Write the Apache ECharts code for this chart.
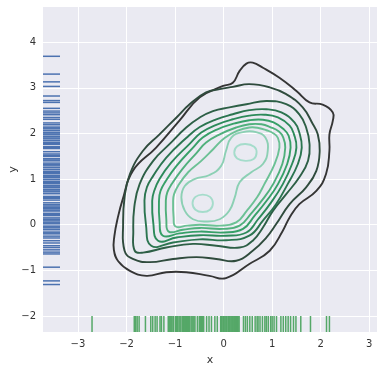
<!DOCTYPE html>
<html><head><meta charset="utf-8">
<script src="https://cdn.jsdelivr.net/npm/echarts@6/dist/echarts.min.js"></script>
<style>html,body{margin:0;padding:0;background:#fff}#c{width:384px;height:371px}</style>
</head><body><div id="c"></div>
<script>
const xTicks = [-3,-2,-1,0,1,2,3];
const yTicks = [-2,-1,0,1,2,3,4];
const xRange = [-3.72, 3.16];
const yRange = [-2.35, 4.77];

const xRug = [-2.71,-1.84,-1.81,-1.78,-1.74,-1.61,-1.50,-1.46,-1.41,-1.37,-1.31,-1.28,-1.23,
 -1.14,-1.12,-1.10,-1.08,-1.06,-1.03,-0.99,-0.97,-0.95,-0.92,-0.90,-0.88,-0.85,-0.83,-0.81,-0.78,-0.76,-0.74,-0.72,-0.70,-0.67,-0.65,-0.63,-0.61,-0.59,
 -0.54,-0.50,-0.48,-0.45,-0.43,-0.41,-0.35,-0.30,-0.25,-0.18,-0.13,
 -0.06,-0.04,-0.03,0.00,0.01,0.03,0.05,0.06,0.09,0.10,0.12,0.13,0.15,0.17,0.18,0.21,0.22,0.24,0.26,0.27,0.29,0.30,0.32,
 0.41,0.45,0.49,0.54,0.59,0.65,0.69,0.71,0.75,0.80,0.85,0.88,0.92,0.97,1.00,1.04,1.09,
 1.18,1.23,1.28,1.33,1.38,1.44,1.49,1.59,1.79,2.12,2.18];

const yRug = [3.69,3.30,3.13,3.03,2.82,2.72,2.68,2.55,2.49,2.45,2.41,2.35,2.31,2.23,2.19,2.14,2.12,2.10,2.06,
 2.02,1.99,1.97,1.93,1.90,1.88,1.84,1.80,1.78,1.76,1.71,1.69,1.67,1.60,1.55,1.52,1.50,1.45,1.42,1.40,1.35,1.32,1.29,1.25,1.21,1.17,1.14,1.12,
 1.08,1.05,1.03,0.99,0.95,0.92,0.90,0.86,0.83,0.81,0.77,0.74,0.72,0.68,0.62,0.60,0.58,0.54,0.48,0.44,0.41,0.38,0.35,0.32,0.30,0.25,0.22,0.20,
 0.15,0.12,0.10,0.06,0.04,0.02,-0.03,-0.05,-0.07,-0.11,-0.16,-0.18,-0.20,-0.25,-0.29,-0.35,-0.40,-0.46,-0.50,-0.55,-0.60,
 -0.64,-0.93,-1.23,-1.31];

const contour1 = [[-2.26,-0.55],[-2.25,-0.25],[-2.18,0.15],[-2.08,0.55],[-1.87,1.18],[-1.39,1.69],[-0.91,2.28],[-0.49,2.79],[-0.01,3.04],
 [0.19,3.11],[0.33,3.37],[0.47,3.53],[0.60,3.55],[0.81,3.44],[1.15,3.22],[1.50,2.93],[1.77,2.68],[2.04,2.63],
 [2.25,2.46],[2.25,2.28],[2.18,1.98],[2.18,1.62],[2.11,1.11],[1.91,0.74],[1.56,0.45],[1.36,0.16],[1.22,-0.13],
 [0.95,-0.57],[0.53,-0.86],[0.05,-1.17],[-0.29,-1.12],[-0.77,-1.04],[-1.18,-1.04],[-1.59,-1.12],[-1.93,-1.01],
 [-2.17,-0.80]];
const contour2 = [[-2.07,0.01],[-2.04,-0.57],[-1.87,-0.75],[-1.52,-0.82],[-1.04,-0.75],[-0.56,-0.71],[-0.15,-0.75],
 [0.26,-0.79],[0.60,-0.57],[0.88,-0.28],[1.08,0.01],[1.36,0.45],[1.70,0.82],[1.91,1.18],[1.98,1.62],[1.94,1.98],
 [1.84,2.20],[1.63,2.57],[1.29,2.86],[0.95,3.01],[0.53,3.08],[0.19,3.02],[-0.08,2.97],[-0.36,2.90],[-0.70,2.64],
 [-0.97,2.35],[-1.32,1.98],[-1.66,1.62],[-1.93,1.11],[-2.04,0.60]];
const contour3 = [[-1.86,-0.15],[-1.83,-0.57],[-1.66,-0.61],[-1.18,-0.50],[-0.63,-0.42],[-0.15,-0.46],[0.33,-0.50],
 [0.60,-0.35],[0.81,-0.06],[1.02,0.31],[1.29,0.67],[1.56,1.04],[1.74,1.40],[1.77,1.77],[1.70,2.13],[1.56,2.42],
 [1.29,2.64],[0.88,2.71],[0.47,2.64],[0.12,2.57],[-0.22,2.49],[-0.49,2.35],[-0.77,2.13],[-1.11,1.77],[-1.45,1.40],
 [-1.73,0.89],[-1.84,0.38]];
const contour4 = [[-1.63,0.53],[-1.60,0.01],[-1.49,-0.46],[-1.04,-0.39],[-0.49,-0.32],[0.05,-0.34],[0.53,-0.24],
 [0.81,0.09],[1.08,0.45],[1.32,0.89],[1.53,1.33],[1.61,1.69],[1.56,2.02],[1.46,2.24],[1.19,2.46],[0.88,2.53],
 [0.53,2.51],[0.19,2.42],[-0.15,2.31],[-0.49,2.14],[-0.77,1.90],[-1.18,1.47],[-1.45,1.07],[-1.58,0.82]];
const contour5 = [[-1.47,0.53],[-1.45,0.05],[-1.35,-0.35],[-0.97,-0.28],[-0.49,-0.23],[0.05,-0.24],[0.47,-0.17],
 [0.71,0.12],[0.98,0.49],[1.22,0.89],[1.41,1.33],[1.50,1.69],[1.45,1.98],[1.36,2.17],[1.12,2.35],[0.84,2.41],
 [0.53,2.39],[0.19,2.31],[-0.15,2.19],[-0.46,2.02],[-0.70,1.77],[-1.08,1.36],[-1.32,1.00],[-1.43,0.74]];
const contour6 = [[-1.33,0.53],[-1.32,0.09],[-1.25,-0.24],[-0.91,-0.19],[-0.49,-0.15],[0.02,-0.17],[0.40,-0.09],
 [0.64,0.20],[0.89,0.53],[1.12,0.89],[1.31,1.33],[1.38,1.69],[1.34,1.95],[1.24,2.09],[1.03,2.24],[0.81,2.30],
 [0.53,2.29],[0.23,2.22],[-0.15,2.08],[-0.43,1.91],[-0.63,1.69],[-0.97,1.29],[-1.19,0.96],[-1.30,0.74]];
const contour7 = [[-1.19,0.53],[-1.18,0.12],[-1.13,-0.15],[-0.84,-0.11],[-0.49,-0.07],[-0.01,-0.09],[0.33,-0.02],
 [0.57,0.25],[0.81,0.56],[1.02,0.89],[1.21,1.33],[1.27,1.69],[1.23,1.91],[1.14,2.04],[0.96,2.14],[0.78,2.20],
 [0.53,2.20],[0.26,2.13],[-0.08,1.98],[-0.36,1.80],[-0.55,1.58],[-0.85,1.22],[-1.07,0.89],[-1.16,0.71]];
const contour8 = [[-1.04,0.53],[-1.03,0.16],[-0.99,-0.04],[-0.75,-0.02],[-0.49,0.00],[-0.08,-0.02],[0.26,0.05],
 [0.48,0.31],[0.69,0.60],[0.84,0.89],[1.05,1.33],[1.15,1.69],[1.12,1.90],[1.03,2.00],[0.88,2.07],[0.72,2.12],
 [0.53,2.13],[0.29,2.06],[0.02,1.90],[-0.21,1.66],[-0.46,1.40],[-0.73,1.15],[-0.94,0.85],[-1.02,0.67]];
const contour9 = [[-0.87,0.60],[-0.80,0.31],[-0.63,0.12],[-0.36,0.07],[-0.08,0.12],[0.12,0.31],[0.23,0.60],
 [0.33,0.93],[0.57,1.15],[0.81,1.33],[0.91,1.62],[0.86,1.91],[0.67,2.03],[0.40,2.03],[0.16,1.91],[0.05,1.62],
 [-0.05,1.29],[-0.29,1.09],[-0.60,1.00],[-0.80,0.85]];
const contour10a = [[-0.64,0.47],[-0.58,0.33],[-0.43,0.28],[-0.28,0.33],[-0.22,0.47],[-0.28,0.61],[-0.43,0.66],[-0.58,0.61]];
const contour10b = [[0.22,1.58],[0.28,1.45],[0.45,1.40],[0.62,1.44],[0.68,1.58],[0.63,1.71],[0.45,1.77],[0.28,1.72]];

const contours = [contour1,contour2,contour3,contour4,contour5,contour6,contour7,contour8,contour9,contour10a,contour10b];
const contourColors = ['#353535','#2f4b3d','#2d5f46','#2b7550','#2c8a5a','#37a068','#50b07c','#6cc195','#8cd0b4','#a5dccb','#a5dccb'];

const fmt = v => String(v).replace('-', '\u2212');
const chart = echarts.init(document.getElementById('c'), null, {renderer:'canvas'});
const txt = '#333333';
chart.setOption({
  animation:false,
  backgroundColor:'#ffffff',
  grid:{left:43,right:7,top:7,bottom:39,show:true,backgroundColor:'#eaeaf2',borderWidth:0,
    containLabel:false,outerBoundsMode:'none'},
  xAxis:{type:'value',min:xRange[0],max:xRange[1],splitNumber:7,
    name:'x',nameLocation:'middle',nameGap:23,nameMoveOverlap:false,nameTextStyle:{color:txt,fontSize:11,fontFamily:'DejaVu Sans'},
    axisLine:{show:false},axisTick:{show:false},
    axisLabel:{color:txt,fontSize:10,fontFamily:'DejaVu Sans',margin:7,showMinLabel:false,showMaxLabel:false,
      formatter:v=>xTicks.includes(v)?fmt(v):''},
    splitLine:{show:true,showMinLine:false,showMaxLine:false,lineStyle:{color:'#ffffff',width:1}}},
  yAxis:{type:'value',min:yRange[0],max:yRange[1],splitNumber:7,
    name:'y',nameLocation:'middle',nameGap:24,nameMoveOverlap:false,nameRotate:90,nameTextStyle:{color:txt,fontSize:11,fontFamily:'DejaVu Sans'},
    axisLine:{show:false},axisTick:{show:false},
    axisLabel:{color:txt,fontSize:10,fontFamily:'DejaVu Sans',margin:7,showMinLabel:false,showMaxLabel:false,
      formatter:v=>yTicks.includes(v)?fmt(v):''},
    splitLine:{show:true,showMinLine:false,showMaxLine:false,lineStyle:{color:'#ffffff',width:1}}},
  series:[
    {type:'custom',clip:true,data:contours.map((c,i)=>[i]),encode:{x:0},
      renderItem:(params,api)=>{
        const i = api.value(0);
        const pts = contours[i].map(p=>api.coord(p));
        return {type:'polygon',shape:{points:pts,smooth:0.45},
          style:{fill:null,stroke:contourColors[i],lineWidth:1.9}};
      }},
    {type:'custom',clip:true,data:xRug.map(v=>[v]),encode:{x:0},
      renderItem:(params,api)=>{
        const p = api.coord([api.value(0), yRange[0]]);
        return {type:'line',shape:{x1:p[0],y1:p[1],x2:p[0],y2:p[1]-16},style:{stroke:'#55a868',lineWidth:1.5}};
      }},
    {type:'custom',clip:true,data:yRug.map(v=>[v]),encode:{y:0},
      renderItem:(params,api)=>{
        const p = api.coord([xRange[0], api.value(0)]);
        return {type:'line',shape:{x1:p[0],y1:p[1],x2:p[0]+17,y2:p[1]},style:{stroke:'#4c72b0',lineWidth:1.5}};
      }}
  ]
});
</script></body></html>
